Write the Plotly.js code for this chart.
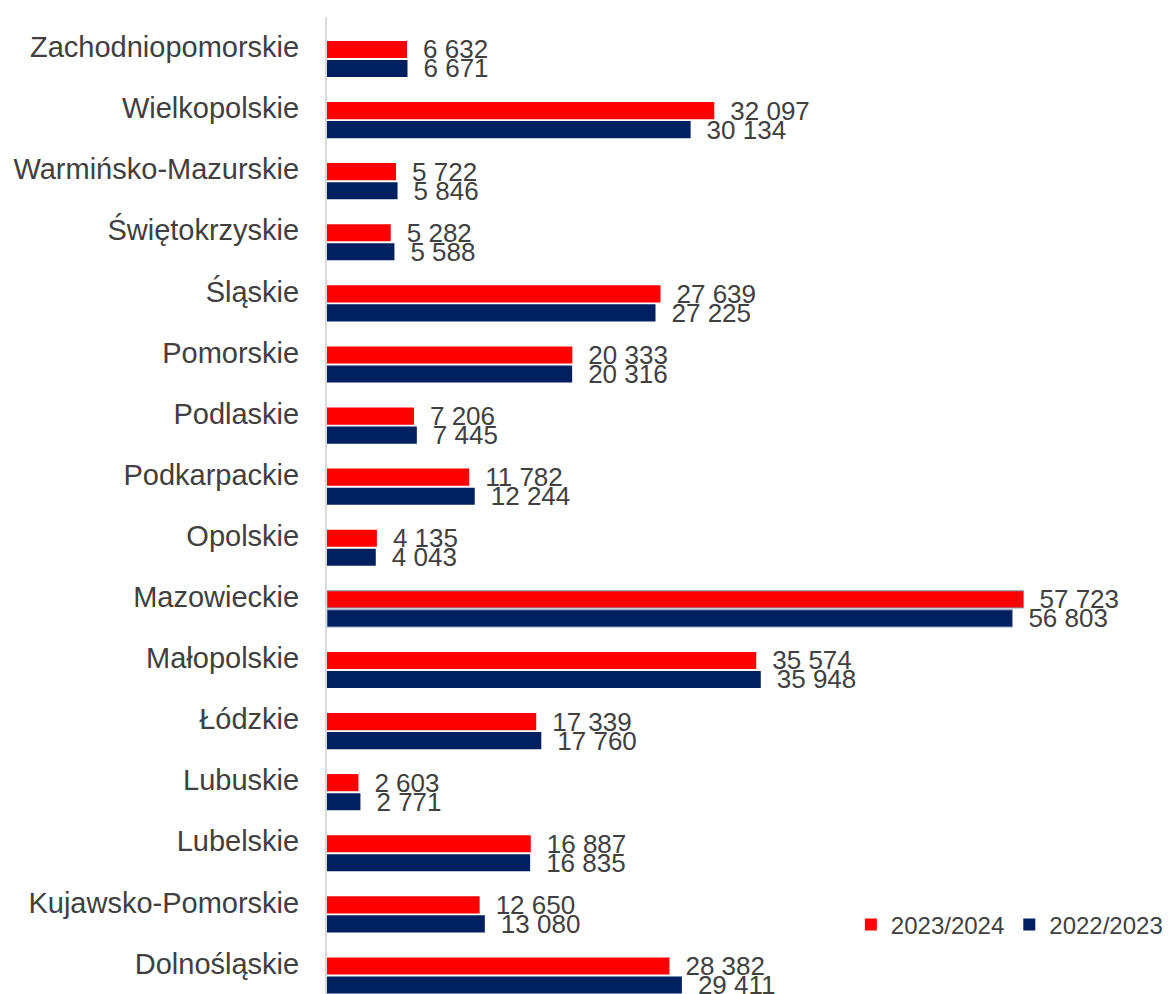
<!DOCTYPE html>
<html>
<head>
<meta charset="utf-8">
<script src="https://cdn.plot.ly/plotly-3.0.1.min.js"></script>
<style>html,body{margin:0;padding:0;background:#fff}#chart{width:1168px;height:994px}</style>
</head>
<body>
<div id="chart"></div>
<script>
const categories = ["Zachodniopomorskie","Wielkopolskie","Warmińsko-Mazurskie","Świętokrzyskie","Śląskie","Pomorskie","Podlaskie","Podkarpackie","Opolskie","Mazowieckie","Małopolskie","Łódzkie","Lubuskie","Lubelskie","Kujawsko-Pomorskie","Dolnośląskie"];
const values2023_2024 = [6632,32097,5722,5282,27639,20333,7206,11782,4135,57723,35574,17339,2603,16887,12650,28382];
const values2022_2023 = [6671,30134,5846,5588,27225,20316,7445,12244,4043,56803,35948,17760,2771,16835,13080,29411];
const seriesNames = ["2023/2024","2022/2023"];

const fontFam = "Liberation Sans, Arial, sans-serif";
const textColor = "#404040";

function fmt(v){ return "\u2002" + String(v).replace(/\B(?=(\d{3})+(?!\d))/g, " "); }
const borderW = categories.map(c => c === "Mazowieckie" ? 1 : 0);

const traces = [
  {
    type: "bar", orientation: "h", name: seriesNames[0],
    y: categories, x: values2023_2024,
    text: values2023_2024.map(fmt), textposition: "outside", cliponaxis: false,
    constraintext: "none",
    textfont: {family: fontFam, size: 26, color: textColor},
    marker: {color: "#FF0000", line: {color: "#8497b0", width: borderW}}
  },
  {
    type: "bar", orientation: "h", name: seriesNames[1],
    y: categories, x: values2022_2023,
    text: values2022_2023.map(fmt), textposition: "outside", cliponaxis: false,
    constraintext: "none",
    textfont: {family: fontFam, size: 26, color: textColor},
    marker: {color: "#002060", line: {color: "#8497b0", width: borderW}}
  }
];

const layout = {
  width: 1168, height: 994,
  margin: {l: 327, r: 0, t: 17, b: 0},
  paper_bgcolor: "#ffffff", plot_bgcolor: "#ffffff",
  font: {family: fontFam, color: textColor},
  barmode: "group", bargap: 0.377, bargroupgap: 0.1,
  showlegend: true,
  legend: {
    orientation: "h", x: 1.007, xanchor: "right", y: 0.0706, yanchor: "middle",
    font: {family: fontFam, size: 24, color: textColor},
    itemwidth: 30, bgcolor: "rgba(0,0,0,0)", traceorder: "normal"
  },
  xaxis: {
    range: [0, 69200], visible: false, showgrid: false, zeroline: false
  },
  yaxis: {
    type: "category", range: [15.303, -0.687],
    showline: true, linecolor: "#d9d9d9", linewidth: 2,
    ticks: "", showgrid: false, zeroline: false,
    tickfont: {family: fontFam, size: 29, color: textColor},
    ticklabelshift: 12, ticklabelstandoff: 20
  }
};

Plotly.newPlot("chart", traces, layout, {displayModeBar: false, staticPlot: true});
</script>
</body>
</html>
